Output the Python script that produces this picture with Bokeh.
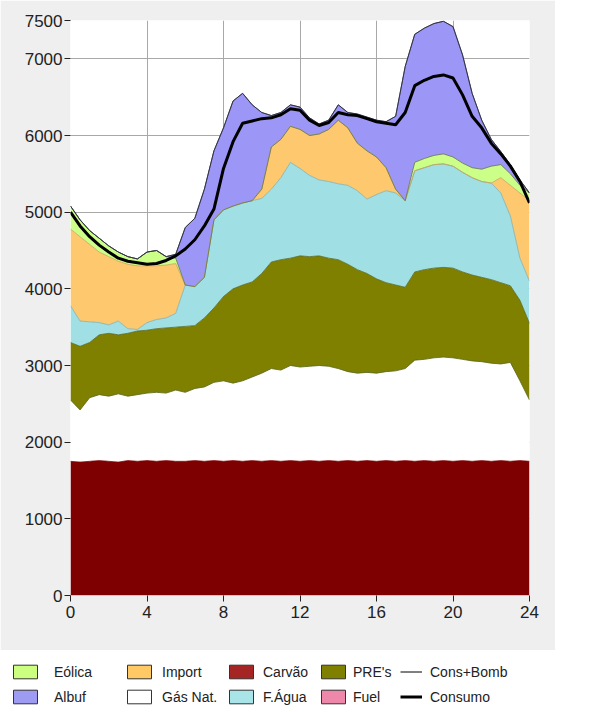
from bokeh.plotting import figure
from bokeh.models import ColumnDataSource, Legend, LegendItem, FixedTicker
from bokeh.embed import file_html
from bokeh.resources import INLINE

hour = [0, 0.5, 1, 1.5, 2, 2.5, 3, 3.5, 4, 4.5, 5, 5.5, 6, 6.5, 7, 7.5, 8, 8.5,
        9, 9.5, 10, 10.5, 11, 11.5, 12, 12.5, 13, 13.5, 14, 14.5, 15, 15.5, 16,
        16.5, 17, 17.5, 18, 18.5, 19, 19.5, 20, 20.5, 21, 21.5, 22, 22.5, 23,
        23.5, 24]

carvao = [1750, 1740, 1750, 1760, 1750, 1740, 1760, 1750, 1760, 1750, 1760, 1750,
          1750, 1760, 1750, 1760, 1750, 1760, 1750, 1760, 1750, 1760, 1750, 1760,
          1750, 1760, 1750, 1760, 1750, 1760, 1750, 1760, 1750, 1760, 1750, 1760,
          1750, 1760, 1750, 1760, 1750, 1760, 1750, 1760, 1750, 1760, 1750, 1760,
          1750]
gas_nat = [800, 680, 830, 860, 850, 890, 840, 870, 880, 900, 880, 930, 900, 940,
           970, 1020, 1050, 1010, 1050, 1090, 1150, 1200, 1190, 1240, 1230, 1230,
           1250, 1230, 1210, 1160, 1150, 1150, 1150, 1160, 1180, 1200, 1320, 1320,
           1350, 1350, 1350, 1320, 1310, 1290, 1280, 1260, 1290, 1040, 800]
pres = [750, 830, 720, 780, 820, 770, 820, 830, 820, 830, 850, 820, 860, 820, 900,
        970, 1100, 1230, 1250, 1240, 1300, 1390, 1440, 1400, 1450, 1430, 1430,
        1410, 1420, 1400, 1350, 1290, 1230, 1160, 1120, 1060, 1150, 1170, 1170,
        1170, 1170, 1140, 1120, 1100, 1090, 1060, 1000, 1050, 1000]
f_agua = [480, 330, 270, 160, 110, 180, 60, 20, 100, 120, 130, 180, 540, 510, 530,
          1150, 1130, 1080, 1070, 1060, 980, 950, 1070, 1250, 1140, 1060, 990, 1000,
          990, 1030, 1030, 970, 1100, 1200, 1200, 1130, 1320, 1330, 1350, 1350,
          1330, 1300, 1270, 1250, 1260, 1170, 910, 550, 550]
importacao = [1000, 1100, 1010, 920, 890, 780, 840, 830, 740, 700, 690, 650, 0, 0,
              0, 0, 0, 0, 0, 0, 120, 550, 500, 470, 510, 520, 600, 680, 830, 750,
              620, 630, 490, 300, 50, 0, 0, 0, 0, 0, 0, 0, 0, 0, 0, 200, 400, 850,
              1050]
eolica = [300, 220, 180, 180, 140, 120, 100, 90, 180, 200, 110, 70, 0, 0, 0, 0, 0,
          0, 0, 0, 0, 0, 0, 0, 0, 0, 0, 0, 0, 0, 0, 0, 0, 0, 0, 0, 110, 120, 120,
          130, 120, 120, 130, 160, 220, 170, 150, 100, 100]
albuf = [0, 0, 0, 0, 0, 0, 0, 0, 0, 0, 0, 50, 750, 890, 1150, 900, 1070, 1370, 1430,
         1250, 1000, 410, 350, 280, 290, 230, 130, 120, 200, 200, 380, 440, 480, 600,
         950, 1750, 1670, 1700, 1720, 1730, 1700, 1410, 970, 640, 350, 170, 120, 70, 0]
fuel = [0, 0, 0, 0, 0, 0, 0, 0, 0, 0, 0, 0, 0, 0, 0, 0, 0, 0, 0, 0, 0, 0, 0, 0, 0,
        0, 0, 0, 0, 0, 0, 0, 0, 0, 0, 0, 0, 0, 0, 0, 0, 0, 0, 0, 0, 0, 0, 0, 0]
cons_bomb = [5080, 4900, 4760, 4660, 4560, 4480, 4420, 4390, 4480, 4500, 4420, 4450,
             4800, 4920, 5300, 5800, 6100, 6450, 6550, 6400, 6300, 6260, 6300, 6400,
             6370, 6230, 6150, 6200, 6400, 6300, 6280, 6240, 6200, 6180, 6250, 6900,
             7320, 7400, 7460, 7490, 7420, 7050, 6550, 6200, 5950, 5790, 5620, 5420,
             5250]
consumo = [5000, 4820, 4680, 4570, 4480, 4400, 4360, 4340, 4320, 4330, 4370, 4430,
           4520, 4640, 4820, 5040, 5570, 5920, 6160, 6190, 6220, 6230, 6270, 6350,
           6330, 6200, 6130, 6170, 6300, 6270, 6260, 6220, 6180, 6160, 6140, 6300,
           6650, 6720, 6770, 6790, 6750, 6530, 6250, 6100, 5900, 5760, 5600, 5400,
           5120]

x_ticks = [0, 4, 8, 12, 16, 20, 24]
y_ticks = [0, 1000, 2000, 3000, 4000, 5000, 6000, 7000, 7500]

layer_names = ["carvao", "gas_nat", "pres", "f_agua", "importacao", "eolica", "albuf", "fuel"]
layer_fill = ["#7f0000", "#ffffff", "#808000", "#a0dfe4", "#fdc86e", "#ccff88", "#9c97f7", "#f08cb4"]
layer_edge = ["#7f0000", "#56661a", "#56661a", "#7fb0b4", "#c9a45a", "#667744", "#555577"]

# legend columns (top item, bottom item)
legend_columns = [("Eólica", "Albuf"), ("Import", "Gás Nat."), ("Carvão", "F.Água"),
                  ("PRE's", "Fuel"), ("Cons+Bomb", "Consumo")]
legend_colors = {"Eólica": "#ccff80", "Import": "#ffc966", "Carvão": "#a52424",
                 "PRE's": "#808000", "Albuf": "#9e9cf2", "Gás Nat.": "#ffffff",
                 "F.Água": "#a8e4e8", "Fuel": "#ee88aa"}
legend_line_width = {"Cons+Bomb": 1, "Consumo": 3}

src = ColumnDataSource(data=dict(hour=hour, carvao=carvao, gas_nat=gas_nat, pres=pres,
                                 f_agua=f_agua, importacao=importacao, eolica=eolica,
                                 albuf=albuf, fuel=fuel, cons_bomb=cons_bomb,
                                 consumo=consumo))

FONT = "Liberation Sans"

p = figure(width=555, height=650, x_range=(0, 24), y_range=(0, 7500),
           output_backend="svg", toolbar_location=None,
           min_border_left=70, min_border_right=26, min_border_top=20,
           min_border_bottom=55, background_fill_color="white",
           border_fill_color="#efefef", outline_line_color=None)

p.varea_stack(stackers=layer_names, x="hour", color=layer_fill, source=src)
p.vline_stack(stackers=layer_names[:7], x="hour", color=layer_edge,
              line_width=1, line_alpha=0.8, source=src)
p.line("hour", "cons_bomb", source=src, line_color="#333344", line_width=1)
p.line("hour", "consumo", source=src, line_color="#000000", line_width=3)

p.xaxis.ticker = FixedTicker(ticks=x_ticks)
p.yaxis.ticker = FixedTicker(ticks=y_ticks)
p.xgrid.ticker = FixedTicker(ticks=x_ticks)
p.ygrid.ticker = FixedTicker(ticks=y_ticks)
for g in (p.xgrid, p.ygrid):
    g.grid_line_color = "#a8a8a8"
    g.grid_line_width = 1
for ax in (p.xaxis, p.yaxis):
    ax.axis_line_color = None
    ax.major_tick_in = 0
    ax.major_tick_out = 6
    ax.major_tick_line_color = "#222222"
    ax.minor_tick_line_color = None
    ax.major_label_text_font = FONT
    ax.major_label_text_font_size = "17px"
    ax.major_label_text_color = "#222222"
p.yaxis.major_label_standoff = 2
p.xaxis.major_label_standoff = 4

# legend strip below the chart (separate root)
lg = figure(width=555, height=62, x_range=(0, 1), y_range=(0, 1),
            output_backend="svg", toolbar_location=None,
            x_axis_type=None, y_axis_type=None, min_border=0,
            background_fill_color="white", border_fill_color="white",
            outline_line_color=None)
lg.xgrid.visible = False
lg.ygrid.visible = False

col_x = [10, 124, 226, 318, 400]
col_standoff = [14, 8, 7, 5, 8]
for cx, sd, labels in zip(col_x, col_standoff, legend_columns):
    items = []
    is_line = labels[0] in legend_line_width
    for lab in labels:
        if lab in legend_colors:
            r = lg.quad(left=[-3], right=[-2], top=[-2], bottom=[-3],
                        fill_color=legend_colors[lab], line_color="#333333", line_width=1)
        else:
            r = lg.line(x=[-3, -2], y=[-3, -2], line_color="#000000",
                        line_width=legend_line_width[lab])
        items.append(LegendItem(label=lab, renderers=[r]))
    leg = Legend(items=items, orientation="vertical", location=(cx, 7),
                 background_fill_alpha=0, border_line_color=None,
                 label_text_font=FONT, label_text_font_size="14px",
                 label_text_color="#222222",
                 glyph_width=22 if is_line else 30, glyph_height=17,
                 label_standoff=sd, spacing=8, padding=4, margin=0)
    lg.add_layout(leg, "center")

open("out.html", "w").write(file_html([p, lg], INLINE))
